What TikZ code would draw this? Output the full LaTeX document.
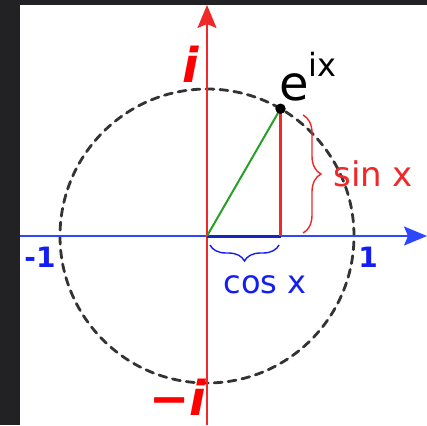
\documentclass[tikz,border=0pt]{standalone}
\usepackage{fontspec}
\setmainfont{DejaVu Sans}
\usetikzlibrary{arrows.meta,decorations.pathreplacing}
\definecolor{axisred}{RGB}{240,40,40}
\definecolor{axisblue}{RGB}{45,70,255}
\definecolor{labelblue}{RGB}{20,30,240}
\definecolor{segblue}{RGB}{25,35,190}
\definecolor{legreen}{RGB}{40,160,40}
\definecolor{darkframe}{RGB}{34,34,36}
\begin{document}
\begin{tikzpicture}[
    x=0.5pt, y=0.5pt,
    axis/.style={-{Stealth[length=11.5pt, width=9.5pt, inset=2pt]}, line width=0.8pt},
    unitcircle/.style={draw=black!80, line width=1.4pt, dash pattern=on 4pt off 3pt, line cap=round},
    bracebig/.style={decorate, decoration={brace, amplitude=9pt}, line width=0.7pt},
    lbl/.style={inner sep=0pt, font=\fontsize{16}{16}\selectfont},
    ilbl/.style={inner sep=0pt, text=red, font=\fontsize{24}{24}\selectfont\bfseries\itshape},
    nlbl/.style={inner sep=0pt, text=labelblue, font=\fontsize{14}{14}\selectfont\bfseries},
]
\useasboundingbox (-207,-189) rectangle (220,236);
\fill[darkframe] (-207,-189) rectangle (220,236);
\fill[white] (-187,-189) rectangle (220,231);

\coordinate (O) at (0,0);
\coordinate (P) at (60:147);
\coordinate (Px) at (P |- O);
\coordinate (xl) at (-187,0);
\coordinate (xr) at (220,0);
\coordinate (yb) at (0,-189);
\coordinate (yt) at (0,231);

% circle and axes
\draw[unitcircle] (O) circle[radius=73.5pt];
\draw[axis, draw=axisblue, fill=axisblue] (xl) -- (xr);
\draw[axis, draw=axisred, fill=axisred] (yb) -- (yt);

% triangle
\draw[segblue, line width=1.5pt] (O) -- (Px);
\draw[legreen, line width=1pt] (O) -- (P);
\draw[axisred, line width=1.2pt] (P) -- (Px);
\fill[black] (P) circle[radius=2.6pt];

% braces
\draw[bracebig, draw=axisred] (96,121) -- (96,3);
\draw[bracebig, draw=labelblue, decoration={amplitude=8pt}] (72,-9) -- (3,-9);

% labels
\node[lbl, text=black, anchor=base west, font=\fontsize{24}{24}\selectfont] (eix) at (72,136)
  {e\raisebox{0.5em}{\fontsize{16}{16}\selectfont ix}};
\node[lbl, text=axisred, font=\fontsize{17}{17}\selectfont, anchor=west] (sinx) at (126,62) {sin x};
\node[lbl, text=labelblue] (cosx) at (58,-49) {cos x};
\node[ilbl] (ipos) at (-16,172) {i};
\node[ilbl, anchor=south] (ineg) at (-29,-180) {−i};
\node[nlbl] (mone) at (-167,-21) {-1};
\node[nlbl] (one) at (161,-21) {1};
\end{tikzpicture}
\end{document}
